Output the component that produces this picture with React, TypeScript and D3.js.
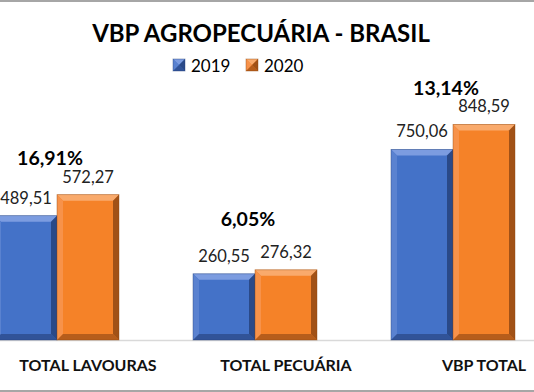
import React from "react";
import * as d3 from "d3";

const categories = ["TOTAL LAVOURAS", "TOTAL PECUÁRIA", "VBP TOTAL"];
const seriesNames = ["2019", "2020"];
const values2019 = [489.51, 260.55, 750.06];
const values2020 = [572.27, 276.32, 848.59];
const growthLabels = ["16,91%", "6,05%", "13,14%"];

const W = 534;
const H = 392;
const FONT = "Lato, 'Open Sans', sans-serif";

// colors for each series: main, light bevel, dark bevel
const palette = [
  { main: "#4472c8", light: "#7c9ce0", side: "#5a82d0", dark: "#243f78" },
  { main: "#f58228", light: "#f9aa6c", side: "#f7924a", dark: "#8c4512" },
];

const fmt = (v: number) => v.toFixed(2).replace(".", ",");

function BevelBar({ x, y, w, h, c }: { x: number; y: number; w: number; h: number; c: any }) {
  const b = Math.min(6, h / 2);
  const x2 = x + w;
  const y2 = y + h;
  return (
    <g>
      <rect x={x} y={y} width={w} height={h} fill={c.main} />
      <polygon points={`${x},${y} ${x2},${y} ${x2 - b},${y + b} ${x + b},${y + b}`} fill={c.light} />
      <polygon points={`${x},${y} ${x + b},${y + b} ${x + b},${y2 - b} ${x},${y2}`} fill={c.side} />
      <polygon points={`${x2},${y} ${x2},${y2} ${x2 - b},${y2 - b} ${x2 - b},${y + b}`} fill={c.dark} opacity={0.8} />
      <polygon points={`${x},${y2} ${x2},${y2} ${x2 - b},${y2 - b} ${x + b},${y2 - b}`} fill={c.dark} opacity={0.6} />
      <rect x={x} y={y} width={w} height={h} fill="none" stroke={c.dark} strokeOpacity={0.5} strokeWidth={0.8} />
    </g>
  );
}

export default function App() {
  const baseline = 340;
  const x0 = d3.scaleBand<string>().domain(categories).range([-11, 583]);
  // third slot is an empty spacer series, as in the source chart
  const x1 = d3.scaleBand<string>().domain([...seriesNames, "_"]).range([6, 192]);
  const y = d3.scaleLinear().domain([0, 1000]).range([baseline, 86]);
  const series = [values2019, values2020];
  const pctOffset = [36, 50, 36];

  return (
    <svg width={W} height={H} style={{ position: "absolute", left: 0, top: 0, background: "#fff" }}>
      <rect x={0} y={0} width={W} height={H} fill="#fff" />
      <rect x={0} y={0} width={W} height={2} fill="#a6a6a6" />
      <rect x={0} y={H - 2} width={W} height={2} fill="#a6a6a6" />

      <text x={261} y={42} textAnchor="middle" fontFamily={FONT} fontWeight={700} fontSize={24} fill="#000">
        VBP AGROPECUÁRIA - BRASIL
      </text>

      {seriesNames.map((s, i) => {
        const lx = 173 + i * 73;
        return (
          <g key={s}>
            <BevelBar x={lx} y={59} w={12} h={12} c={{ ...palette[i] }} />
            <text x={lx + 18} y={71.5} fontFamily={FONT} fontSize={17} fill="#000">
              {s}
            </text>
          </g>
        );
      })}

      <line x1={0} x2={W} y1={baseline + 0.5} y2={baseline + 0.5} stroke="#d9d9d9" strokeWidth={1.5} />

      {categories.map((cat, ci) => {
        const gx = x0(cat)!;
        const maxTop = y(Math.max(values2019[ci], values2020[ci]));
        const center = gx + x0.bandwidth() / 2;
        return (
          <g key={cat}>
            {series.map((vals, si) => {
              const bx = gx + x1(seriesNames[si])!;
              const top = y(vals[ci]);
              return (
                <g key={si}>
                  <BevelBar x={bx} y={top} w={x1.bandwidth()} h={baseline - top} c={palette[si]} />
                  <text
                    x={bx + x1.bandwidth() / 2}
                    y={top - 12}
                    textAnchor="middle"
                    fontFamily={FONT}
                    fontSize={16.5}
                    fill="#222"
                  >
                    {fmt(vals[ci])}
                  </text>
                </g>
              );
            })}
            <text
              x={center - 38}
              y={maxTop - pctOffset[ci] + 6.5}
              textAnchor="middle"
              fontFamily={FONT}
              fontWeight={700}
              fontSize={19.5}
              fill="#000"
            >
              {growthLabels[ci]}
            </text>
            <text x={center} y={371} textAnchor="middle" fontFamily={FONT} fontWeight={700} fontSize={16} fill="#111">
              {cat}
            </text>
          </g>
        );
      })}
    </svg>
  );
}
